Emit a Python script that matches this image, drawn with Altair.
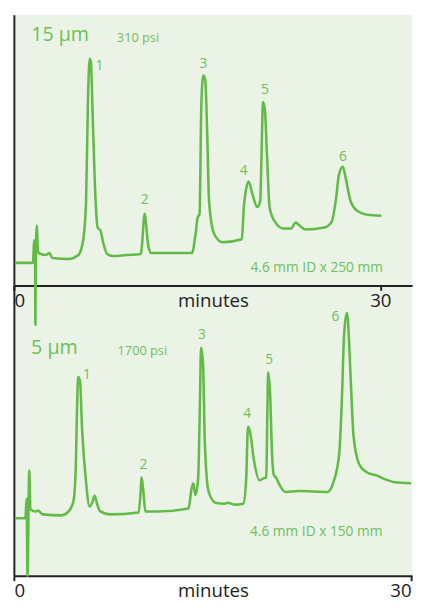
import altair as alt
import pandas as pd

# ---------------- top chromatogram: 15 µm, 4.6 x 250 mm ----------------
top_time = [0.08, 1.57, 1.65, 1.73, 1.76, 1.80, 1.89, 1.97, 2.05, 2.60, 2.91, 3.15,
            4.49, 5.28, 5.67, 5.91, 6.06, 6.20, 6.30, 6.46, 6.69, 6.85, 7.09, 7.32,
            7.64, 8.11, 9.21, 10.39, 10.47, 10.71, 10.79, 11.02, 11.26, 12.36, 14.57,
            14.88, 15.04, 15.20, 15.35, 15.51, 15.67, 15.83, 15.98, 16.38, 17.09,
            18.66, 18.82, 18.98, 19.21, 19.53, 19.92, 20.16, 20.31, 20.39, 20.55,
            20.71, 20.94, 21.42, 22.05, 22.68, 23.07, 23.39, 23.86, 25.43, 25.98,
            26.38, 26.61, 26.93, 27.17, 27.56, 28.11, 28.90, 30.08]
top_signal = [23, 23, 46, 44, -40, 36, 61, 34, 33, 31, 33, 28,
              27, 31, 46, 86, 186, 231, 229, 169, 86, 59, 56, 43,
              32, 30, 31, 32, 39, 73, 66, 39, 33, 33, 33,
              53, 69, 73, 186, 214, 209, 153, 86, 53, 44,
              47, 79, 96, 106, 93, 80, 86, 153, 187, 179,
              136, 79, 64, 58, 58, 64, 61, 57, 59, 64,
              89, 113, 121, 109, 86, 76, 72, 71]
top_peak_time = [7.01, 10.71, 15.51, 18.82, 20.55, 26.93]
top_peak_signal = [224, 87, 226, 117, 199, 131]
top_note_text = ["15 µm", "310 psi", "4.6 mm ID x 250 mm"]
top_note_time = [1.42, 8.43, 19.37]
top_note_signal = [255, 252, 18]

# ---------------- bottom chromatogram: 5 µm, 4.6 x 150 mm ----------------
bottom_time = [0.07, 0.87, 0.96, 1.03, 1.16, 1.25, 1.67, 1.81, 2.17, 3.62, 4.13, 4.49,
               4.64, 4.86, 5.00, 5.14, 5.43, 5.72, 5.94, 6.09, 6.30, 6.52, 7.25,
               9.42, 9.57, 9.64, 9.78, 9.93, 10.87, 13.19, 13.41, 13.55, 13.70,
               13.91, 14.06, 14.13, 14.28, 14.42, 14.71, 15.22, 15.94, 16.16, 16.67,
               17.32, 17.54, 17.68, 17.83, 18.12, 18.55, 18.84, 19.06, 19.13, 19.20,
               19.35, 19.49, 19.64, 19.78, 20.07, 20.51, 21.52, 23.70, 24.13, 24.57,
               24.78, 24.93, 25.14, 25.22, 25.43, 25.65, 26.09, 26.67, 27.39, 28.04,
               28.77, 30.00]
bottom_signal = [59, 59, 79, 0, 108, 68, 66, 67, 63, 62, 66, 76,
                 99, 204, 199, 153, 99, 71, 76, 82, 73, 66, 63,
                 65, 86, 101, 86, 66, 66, 69, 89, 95, 83,
                 99, 186, 234, 219, 136, 86, 75, 74, 75, 73,
                 74, 99, 153, 148, 119, 98, 100, 101, 159, 209,
                 186, 126, 103, 101, 93, 86, 87, 86, 96, 126,
                 186, 246, 270, 263, 203, 143, 114, 106, 103, 99,
                 96, 95]
bottom_peak_time = [5.51, 9.78, 14.20, 17.61, 19.28, 24.28]
bottom_peak_signal = [206, 114, 247, 166, 221, 266]
bottom_note_text = ["5 µm", "1700 psi", "4.6 mm ID x 150 mm"]
bottom_note_time = [1.30, 7.83, 17.83]
bottom_note_signal = [234, 231, 45]

peak_names = ["1", "2", "3", "4", "5", "6"]
note_sizes = [20, 13, 14]

LINE = "#62bb47"
TXT = "#6cc057"
BG = "#ebf3e7"
AX = "#222222"
FONT = "Open Sans"
H = 572  # expected plot height inside the fitted chart


def panel(times, signals, pk_t, pk_s, nt_text, nt_t, nt_s, xdomain, ydomain, xaxis, yaxis):
    trace = pd.DataFrame({"t": times, "s": signals})
    peaks = pd.DataFrame({"t": pk_t, "s": pk_s, "label": peak_names})
    notes = pd.DataFrame({"t": nt_t, "s": nt_s, "label": nt_text, "fs": note_sizes})
    X = alt.X("t:Q", scale=alt.Scale(domain=xdomain, nice=False, zero=False), axis=xaxis)
    Y = alt.Y("s:Q", scale=alt.Scale(domain=ydomain, nice=False, zero=False), axis=yaxis)
    line = alt.Chart(trace).mark_line(color=LINE, strokeWidth=2.6, interpolate="monotone",
                                      clip=False).encode(x=X, y=Y, order="t:Q")
    pk = alt.Chart(peaks).mark_text(color=TXT, font=FONT, fontSize=14, align="center",
                                    baseline="middle").encode(x=X, y=Y, text="label:N")
    nt = alt.Chart(notes).mark_text(color=TXT, font=FONT, align="left",
                                    baseline="middle").encode(
        x=X, y=Y, text="label:N", size=alt.Size("fs:Q", scale=None, legend=None))
    return alt.layer(line, pk, nt)


top_xaxis = alt.Axis(values=[0, 30], orient="bottom", offset=-(H - 276), title="minutes",
                     titleY=6, titleBaseline="top", grid=False, labelFlush=True)
top_yaxis = alt.Axis(orient="left", labels=False, ticks=False, title=None, grid=False,
                     minExtent=0, maxExtent=0)
bottom_xaxis = alt.Axis(values=[0, 30], orient="bottom", title="minutes",
                        titleY=6, titleBaseline="top", grid=False, labelFlush=True)

top = panel(top_time, top_signal, top_peak_time, top_peak_signal,
            top_note_text, top_note_time, top_note_signal,
            [0, 32.60], [276 - H, 276], top_xaxis, top_yaxis)
bottom = panel(bottom_time, bottom_signal, bottom_peak_time, bottom_peak_signal,
               bottom_note_text, bottom_note_time, bottom_note_signal,
               [0, 30.07], [0, 576], bottom_xaxis, None)

chart = alt.layer(top, bottom).resolve_scale(x="independent", y="independent").properties(
    width=417, height=598,
    autosize=alt.AutoSizeParams(type="fit", contains="padding"),
    padding={"left": 1, "top": 1, "right": 0, "bottom": 0},
).configure_view(fill=BG, stroke=None).configure_axis(
    domainColor=AX, domainWidth=2, tickColor=AX, tickWidth=2, tickSize=5,
    labelFont=FONT, labelFontSize=19, labelColor=AX, labelPadding=1,
    titleFont=FONT, titleFontSize=19, titleFontWeight="normal", titleColor=AX,
)

chart.save("out.html", embed_options={"renderer": "svg", "actions": False})
